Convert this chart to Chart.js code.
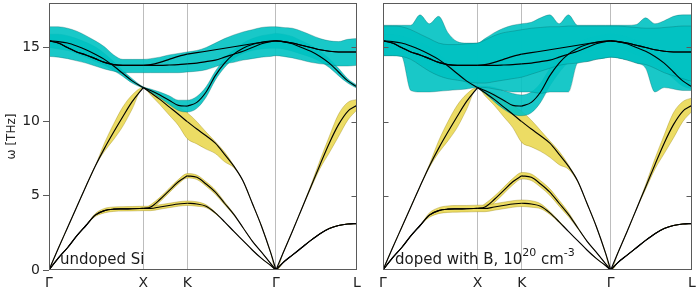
<!DOCTYPE html>
<html><head><meta charset="utf-8">
<script src="https://cdn.jsdelivr.net/npm/chart.js@4/dist/chart.umd.min.js"></script>
<style>
html,body{margin:0;padding:0;background:#fff;width:699px;height:292px;overflow:hidden}
#a{position:absolute;left:0;top:0;width:365px;height:292px}
#b{position:absolute;left:370px;top:0;width:329px;height:292px}
</style></head><body>
<div id="a"><canvas id="ca"></canvas></div>
<div id="b"><canvas id="cb"></canvas></div>
<script>
// ---- axes ----
const pathLabels = ['Γ','X','K','Γ','L'];
const pathTicks  = [0, 0.306, 0.449, 0.737, 1];
const freqTicks  = [0, 5, 10, 15];
// sample positions along Γ-X-K-Γ-L (fraction of path)
const q = [0,0.03,0.06,0.09,0.12,0.15,0.18,0.21,0.24,0.27,0.306, 0.33,0.36,0.39,0.42,0.449, 0.48,0.51,0.54,0.57,0.6,0.63,0.66,0.69,0.72,0.737, 0.76,0.79,0.82,0.85,0.88,0.91,0.94,0.97,1];
const segIdx = [0,10,15,25,34];

// ---- phonon branches [THz] ----
const ta1 = [0,0.8,1.5,2.3,3.0,3.7,4.0,4.1,4.12,4.13,4.15, 4.15,4.25,4.35,4.45,4.5, 4.45,4.3,3.85,3.25,2.6,1.98,1.35,0.78,0.3,0, 0.5,1.0,1.5,2.0,2.45,2.8,3.0,3.1,3.13];
const ta2 = [0,0.8,1.5,2.3,3.0,3.7,4.0,4.1,4.12,4.13,4.15, 4.25,4.75,5.35,5.95,6.35, 6.25,5.8,5.25,4.5,3.75,2.85,1.95,1.2,0.43,0, 0.5,1.0,1.5,2.0,2.45,2.8,3.0,3.1,3.13];
const la  = [0,1.45,2.85,4.25,5.65,7.0,8.2,9.3,10.35,11.35,12.3, 11.95,11.5,11.0,10.5,10.0, 9.5,9.05,8.55,7.8,7.0,6.0,4.5,2.95,1.15,0, 1.15,2.6,4.1,5.6,7.1,8.55,9.8,10.7,11.1];
const lo  = [15.45,15.4,15.3,15.1,14.85,14.55,14.2,13.75,13.25,12.75,12.3, 12.1,11.8,11.45,11.1,11.05, 11.3,12.0,13.1,13.95,14.55,14.95,15.2,15.35,15.43,15.45, 15.4,15.25,15.0,14.75,14.4,13.95,13.35,12.75,12.35];
const toA = [15.45,15.3,15.0,14.7,14.5,14.25,14.0,13.85,13.8,13.8,13.8, 13.85,14.0,14.2,14.4,14.55, 14.65,14.75,14.85,14.95,15.05,15.15,15.25,15.35,15.42,15.45, 15.4,15.3,15.15,15.0,14.85,14.75,14.7,14.7,14.7];
const toB = [15.45,15.3,15.0,14.7,14.5,14.25,14.0,13.85,13.8,13.8,13.8, 13.8,13.8,13.82,13.85,13.9, 13.95,14.05,14.15,14.35,14.55,14.75,15.0,15.25,15.4,15.45, 15.4,15.3,15.15,15.0,14.85,14.75,14.7,14.7,14.7];

// ---- undoped uncertainty bands ----
const undOptHi = [16.4,16.4,16.3,16.1,15.8,15.45,15.05,14.5,14.2,14.2,14.2, 14.25,14.35,14.5,14.6,14.7, 14.8,15.0,15.3,15.6,15.85,16.05,16.2,16.35,16.4,16.4, 16.35,16.3,16.1,15.85,15.6,15.45,15.4,15.55,15.6];
const undOptLo = [14.4,14.35,14.25,14.1,13.95,13.75,13.55,13.4,13.3,13.3,13.3, 13.3,13.3,13.3,13.3,13.35, 13.4,13.5,13.7,13.9,14.0,14.15,14.25,14.35,14.4,14.45, 14.4,14.3,14.15,14.0,13.9,13.85,13.75,13.75,13.8];
const undLOHi  = [15.9,15.9,15.8,15.6,15.35,15.05,14.6,14.05,13.45,12.9,12.35, 12.2,12.0,11.75,11.45,11.45, 11.7,12.35,13.4,14.25,14.85,15.3,15.6,15.8,15.9,15.95, 15.9,15.75,15.45,15.15,14.75,14.25,13.6,12.9,12.45];
const undLOLo  = [15.0,14.9,14.8,14.6,14.35,14.05,13.8,13.45,13.05,12.6,12.25, 12.0,11.6,11.15,10.75,10.65, 10.9,11.65,12.8,13.65,14.25,14.6,14.8,14.9,14.95,14.95, 14.9,14.75,14.55,14.35,14.05,13.65,13.1,12.6,12.25];
const undLAHi  = [0,1.45,2.85,4.25,5.65,7.0,8.55,9.85,11.0,11.8,12.3, 12.1,11.85,11.4,11.0,10.6, 10.0,9.3,8.65,7.95,7.05,6.0,4.5,2.95,1.15,0, 1.15,2.6,4.1,5.7,7.4,9.0,10.5,11.3,11.5];
const undLALo  = [0,1.45,2.85,4.25,5.65,7.0,8.0,8.8,9.7,10.85,12.3, 11.8,11.15,10.45,9.75,8.85, 8.5,8.15,7.85,7.3,6.9,6.0,4.5,2.95,1.15,0, 1.15,2.6,4.1,5.5,6.85,7.9,9.0,10.1,10.8];
const undTA1Hi = [0,0.8,1.5,2.3,3.0,3.8,4.15,4.25,4.27,4.28,4.3, 4.3,4.4,4.5,4.6,4.65, 4.6,4.4,3.9,3.25,2.6,1.98,1.35,0.78,0.3,0, 0.5,1.0,1.5,2.0,2.45,2.8,3.0,3.1,3.13];
const undTA1Lo = [0,0.8,1.5,2.3,3.0,3.6,3.85,3.95,3.97,3.98,4.0, 4.0,4.1,4.2,4.3,4.35, 4.3,4.2,3.8,3.25,2.6,1.98,1.35,0.78,0.3,0, 0.5,1.0,1.5,2.0,2.45,2.8,3.0,3.1,3.13];
const undTA2Hi = [0,0.8,1.5,2.3,3.0,3.7,4.0,4.1,4.12,4.13,4.15, 4.4,4.9,5.5,6.1,6.5, 6.4,5.95,5.4,4.6,3.8,2.85,1.95,1.2,0.43,0, 0.5,1.0,1.5,2.0,2.45,2.8,3.0,3.1,3.13];
const undTA2Lo = [0,0.8,1.5,2.3,3.0,3.7,4.0,4.1,4.12,4.13,4.15, 4.1,4.6,5.2,5.8,6.2, 6.1,5.65,5.1,4.4,3.7,2.85,1.95,1.2,0.43,0, 0.5,1.0,1.5,2.0,2.45,2.8,3.0,3.1,3.13];

// ---- doped (B, 1e20 cm^-3) uncertainty bands ----
const dopOptHi = [16.5,16.5,16.5,16.5,17.2,16.6,17.1,16.0,15.4,15.3,15.3, 15.6,16.0,16.3,16.5,16.6, 16.7,17.0,17.2,16.6,17.2,16.5,16.5,16.5,16.5,16.5, 16.5,16.5,16.55,17.0,16.6,16.8,17.1,17.2,17.2];
const dopOptLo = [14.45,14.45,14.4,12.1,12.0,12.0,12.05,12.1,12.15,12.2,12.3, 12.3,12.2,12.1,12.0,12.0, 12.0,11.9,12.0,12.0,12.0,13.95,14.05,14.2,14.3,14.35, 14.3,14.15,13.95,13.6,12.0,12.3,12.2,12.1,12.1];
const dopCoreHi = [16.45,16.45,16.4,16.2,15.9,15.6,15.3,15.2,15.2,15.25,15.3, 15.5,15.8,16.0,16.1,16.2, 16.3,16.35,16.4,16.4,16.45,16.45,16.45,16.45,16.45,16.45, 16.45,16.4,16.35,16.3,16.3,16.35,16.4,16.45,16.45];
const dopCoreLo = [14.45,14.45,14.4,14.2,13.8,13.4,13.1,12.9,12.8,12.7,12.6, 12.6,12.7,12.8,12.9,13.0, 13.2,13.4,13.6,13.8,13.9,13.95,14.05,14.2,14.3,14.35, 14.3,14.15,13.95,13.85,13.6,13.3,13.1,12.9,12.7];
const dopLOHi  = [15.9,15.9,15.8,15.6,15.35,15.05,14.6,14.05,13.45,12.9,12.4, 12.4,12.3,12.1,11.9,11.8, 12.0,12.6,13.6,14.4,14.95,15.35,15.6,15.8,15.9,15.95, 15.9,15.75,15.5,15.2,14.85,14.4,13.8,13.1,12.5];
const dopLOLo  = [15.0,14.9,14.8,14.6,14.35,14.05,13.8,13.45,13.05,12.6,12.25, 11.9,11.35,10.85,10.5,10.4, 10.6,11.3,12.4,13.3,14.0,14.4,14.7,14.85,14.95,14.95, 14.9,14.75,14.5,14.25,13.9,13.45,12.9,12.4,12.2];
const dopLAHi  = [0,1.45,2.85,4.25,5.65,7.1,8.7,10.0,11.1,11.85,12.3, 12.15,11.9,11.5,11.1,10.7, 10.1,9.4,8.7,8.0,7.1,6.0,4.5,2.95,1.15,0, 1.15,2.6,4.1,5.75,7.5,9.1,10.6,11.35,11.6];
const dopLALo  = [0,1.45,2.85,4.25,5.65,6.9,7.9,8.7,9.6,10.8,12.3, 11.75,11.1,10.35,9.6,8.6, 8.3,8.0,7.6,7.1,6.8,5.95,4.5,2.95,1.15,0, 1.15,2.6,4.1,5.45,6.8,7.85,8.9,10.0,10.7];
const dopTA1Hi = [0,0.8,1.5,2.3,3.0,3.85,4.2,4.32,4.35,4.35,4.37, 4.37,4.47,4.57,4.67,4.72, 4.67,4.47,3.95,3.3,2.6,1.98,1.35,0.78,0.3,0, 0.5,1.0,1.5,2.0,2.45,2.8,3.0,3.1,3.13];
const dopTA1Lo = [0,0.8,1.5,2.3,3.0,3.55,3.8,3.88,3.9,3.91,3.93, 3.93,4.03,4.13,4.23,4.28, 4.23,4.13,3.75,3.2,2.6,1.98,1.35,0.78,0.3,0, 0.5,1.0,1.5,2.0,2.45,2.8,3.0,3.1,3.13];
const dopTA2Hi = [0,0.8,1.5,2.3,3.0,3.7,4.0,4.1,4.12,4.13,4.15, 4.47,4.97,5.57,6.17,6.57, 6.47,6.02,5.47,4.7,3.9,2.9,1.95,1.2,0.43,0, 0.5,1.0,1.5,2.0,2.45,2.8,3.0,3.1,3.13];
const dopTA2Lo = [0,0.8,1.5,2.3,3.0,3.7,4.0,4.1,4.12,4.13,4.15, 4.03,4.53,5.13,5.73,6.13, 6.03,5.58,5.03,4.3,3.6,2.8,1.95,1.2,0.43,0, 0.5,1.0,1.5,2.0,2.45,2.8,3.0,3.1,3.13];

const CYAN = 'rgba(0,194,194,0.9)', CYAN_EDGE = 'rgba(0,90,90,0.5)';
const YEL = 'rgb(236,220,100)', YEL_EDGE = 'rgba(140,120,0,0.55)';

function pts(arr, from, to) {
  const out = [];
  for (let i = from; i <= to; i++) out.push({x: q[i], y: arr[i]});
  return out;
}
function bandSets(lowArr, highArr, fill, edge, order) {
  const base = {pointRadius:0, borderWidth:0.6, borderColor:edge, cubicInterpolationMode:'monotone', order};
  return [
    Object.assign({}, base, {data: pts(lowArr,0,34), fill:false}),
    Object.assign({}, base, {data: pts(highArr,0,34), fill:'-1', backgroundColor: fill})
  ];
}
function lineSets(branches) {
  const out = [];
  for (const br of branches)
    for (let s = 0; s < 4; s++)
      out.push({data: pts(br, segIdx[s], segIdx[s+1]), borderColor:'#000', borderWidth:1.15,
                pointRadius:0, fill:false, cubicInterpolationMode:'monotone', order:0});
  return out;
}

function framePlugin(innerLeft, label, lx, ly) {
  return {
    id: 'frame',
    afterDraw(chart) {
      const {ctx, chartArea: a} = chart;
      const y = chart.scales.y;
      ctx.save();
      ctx.strokeStyle = '#5a5a5a'; ctx.lineWidth = 1;
      const L = Math.round(a.left) + 0.5, R = Math.round(a.right) - 0.5;
      const T = Math.round(a.top) + 0.5, B = Math.round(a.bottom) - 0.5;
      ctx.strokeRect(L, T, R - L, B - T);
      ctx.beginPath();
      for (const v of freqTicks) {
        if (v === 0) continue;
        const py = Math.round(y.getPixelForValue(v)) + 0.5;
        if (innerLeft) { ctx.moveTo(L, py); ctx.lineTo(L + 5, py); }
        ctx.moveTo(R, py); ctx.lineTo(R - 5, py);
      }
      ctx.stroke();
      ctx.fillStyle = '#1a1a1a';
      ctx.textBaseline = 'alphabetic';
      let x = lx;
      for (const part of label) {
        ctx.font = (part.sup ? '11px' : '15px') + ' "DejaVu Sans"';
        ctx.fillText(part.t, x, part.sup ? ly - 8 : ly);
        x += ctx.measureText(part.t).width;
      }
      ctx.restore();
    }
  };
}

function makeChart(id, bands, isLeft, label, lx) {
  let datasets = lineSets([ta1, ta2, la, lo, toA, toB]);
  if (bands.coreLo) datasets = datasets.concat(bandSets(bands.coreLo, bands.coreHi, CYAN, CYAN_EDGE, 1));
  datasets = datasets.concat(
    bandSets(bands.optLo, bands.optHi, CYAN, CYAN_EDGE, 1),
    bandSets(bands.loLo, bands.loHi, CYAN, CYAN_EDGE, 1),
    bandSets(bands.laLo, bands.laHi, YEL, YEL_EDGE, 2),
    bandSets(bands.ta1Lo, bands.ta1Hi, YEL, YEL_EDGE, 2),
    bandSets(bands.ta2Lo, bands.ta2Hi, YEL, YEL_EDGE, 2)
  );
  return new Chart(document.getElementById(id), {
    type: 'line',
    data: {datasets},
    options: {
      responsive: true, maintainAspectRatio: false, animation: false, events: [],
      devicePixelRatio: 1,
      layout: {padding: {top: 3, right: isLeft ? 8 : 7, left: 0, bottom: 0}},
      plugins: {legend: {display: false}, tooltip: {enabled: false}},
      scales: {
        x: {
          type: 'linear', min: 0, max: 1,
          afterBuildTicks: s => { s.ticks = pathTicks.map(v => ({value: v})); },
          afterFit: s => { s.height = 22; s.paddingLeft = 0; s.paddingRight = 0; },
          ticks: {callback: (v, i) => pathLabels[i], color: '#222', padding: 5, maxRotation: 0, autoSkip: false,
                  font: {family: 'DejaVu Sans', size: 14}},
          grid: {drawTicks: false, lineWidth: 1,
                 color: c => (c.index > 0 && c.index < 4) ? '#bdbdbd' : 'rgba(0,0,0,0)'},
          border: {display: false}
        },
        y: {
          min: 0, max: 18,
          afterBuildTicks: s => { s.ticks = freqTicks.map(v => ({value: v})); },
          afterFit: s => { s.width = isLeft ? 49 : 13; s.paddingTop = 0; s.paddingBottom = 0; },
          ticks: {display: isLeft, color: '#222', padding: 3, font: {family: 'DejaVu Sans', size: 14}},
          grid: {display: isLeft, drawOnChartArea: false, drawTicks: true, tickLength: 6, tickColor: '#5a5a5a'},
          border: {display: false},
          title: {display: isLeft, text: 'ω [THz]', color: '#222', font: {family: 'DejaVu Sans', size: 12}, padding: {top: 5, bottom: 0}}
        }
      }
    },
    plugins: [framePlugin(!isLeft, label, lx, 264)]
  });
}

makeChart('ca', {optHi: undOptHi, optLo: undOptLo, loHi: undLOHi, loLo: undLOLo, laHi: undLAHi, laLo: undLALo,
                 ta1Hi: undTA1Hi, ta1Lo: undTA1Lo, ta2Hi: undTA2Hi, ta2Lo: undTA2Lo},
          true, [{t: 'undoped Si'}], 60);
makeChart('cb', {coreHi: dopCoreHi, coreLo: dopCoreLo, optHi: dopOptHi, optLo: dopOptLo, loHi: dopLOHi, loLo: dopLOLo,
                 laHi: dopLAHi, laLo: dopLALo, ta1Hi: dopTA1Hi, ta1Lo: dopTA1Lo, ta2Hi: dopTA2Hi, ta2Lo: dopTA2Lo},
          false, [{t: 'doped with B, 10'}, {t: '20', sup: true}, {t: ' cm'}, {t: '-3', sup: true}], 25);
</script>
</body></html>
